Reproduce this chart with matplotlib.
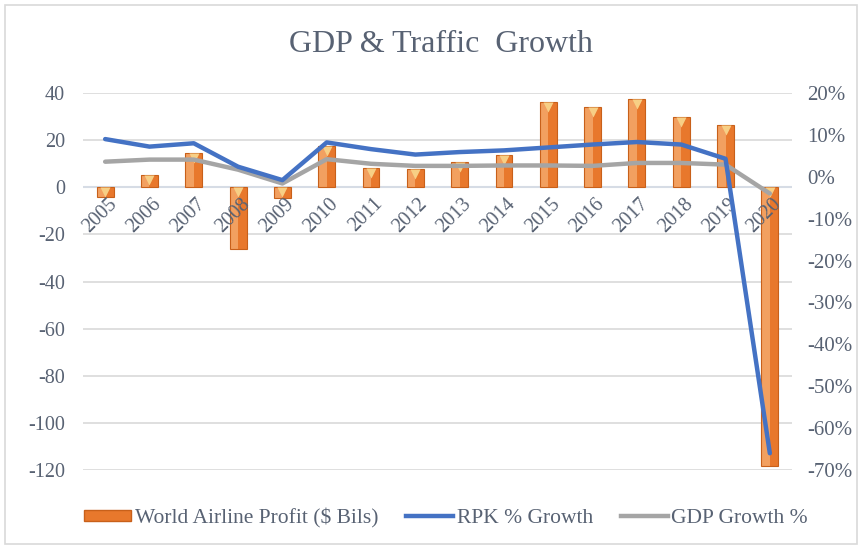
import matplotlib
matplotlib.use("Agg")
import matplotlib.pyplot as plt
import matplotlib.transforms as mtransforms
from matplotlib.patches import Rectangle, Patch
from matplotlib.lines import Line2D
from matplotlib.ticker import FuncFormatter, MultipleLocator

years = ["2005", "2006", "2007", "2008", "2009", "2010", "2011", "2012",
         "2013", "2014", "2015", "2016", "2017", "2018", "2019", "2020"]
profit = [-4.1, 5.0, 14.7, -26.0, -4.6, 17.3, 8.3, 7.6,
          10.6, 13.7, 36.0, 34.2, 37.6, 30.0, 26.4, -118.5]
rpk_growth = [9.0, 7.2, 8.0, 2.4, -0.8, 8.2, 6.6, 5.3,
              5.9, 6.3, 7.0, 7.7, 8.3, 7.7, 4.3, -66.0]
gdp_growth = [3.6, 4.1, 4.1, 1.7, -1.6, 4.2, 3.1, 2.6,
              2.6, 2.7, 2.7, 2.6, 3.3, 3.3, 2.9, -4.0]

txt = "#586273"
plt.rcParams["font.family"] = ["Liberation Serif", "DejaVu Serif"]
plt.rcParams["axes.unicode_minus"] = False

fig = plt.figure(figsize=(8.62, 5.49), dpi=100)
fig.patches.append(Rectangle((5 / 862, 5 / 549), 852 / 862, 539 / 549,
                             transform=fig.transFigure, fill=False,
                             edgecolor="#D9D9D9", lw=1.2))

ax = fig.add_axes([83 / 862, 1 - 470 / 549, (792 - 83) / 862, (470 - 93) / 549])
ax2 = ax.twinx()

x = list(range(len(years)))
w = 0.38
base = "#E8782C"
light = "#F2A060"
for xi, v in zip(x, profit):
    ax.bar(xi - w / 4, v, width=w / 2, color=light, edgecolor="none", zorder=2)
    ax.bar(xi + w / 4, v, width=w / 2, color=base, edgecolor="none", zorder=2)
    ax.bar(xi, v, width=w, color="none", edgecolor="#C8601A", lw=0.8, zorder=3)
    top = max(v, 0)
    tr = mtransforms.offset_copy(ax.transData, fig=fig, y=-5, units="dots")
    ax.plot([xi], [top], marker="v", markersize=7, color="#F7CF85",
            markeredgecolor="none", transform=tr, zorder=4)

ax.set_xlim(-0.5, len(years) - 0.5)
ax.set_ylim(-120, 40)
ax.yaxis.set_major_locator(MultipleLocator(20))
ax.grid(axis="y", color="#D9D9D9", lw=1.2, zorder=0)
ax.set_axisbelow(True)
ax.axhline(0, color="#D6DCE5", lw=1.5, zorder=1)
ax.set_xticks([])
for s in ax.spines.values():
    s.set_visible(False)
ax.tick_params(axis="y", length=0, pad=13, labelsize=14.5, labelcolor=txt)

for xi, lab in zip(x, years):
    tr = mtransforms.offset_copy(ax.transData, fig=fig, x=9, y=-14, units="dots")
    ax.text(xi, 0, lab, rotation=45, rotation_mode="anchor", ha="right",
            va="center", fontsize=14.5, color=txt, transform=tr, zorder=5)

ax2.plot(x, [v / 100 for v in rpk_growth], color="#4472C4", lw=3.2,
         solid_capstyle="round", zorder=5)
ax2.plot(x, [v / 100 for v in gdp_growth], color="#A5A5A5", lw=3.2,
         solid_capstyle="round", zorder=4)
ax2.set_ylim(-0.70, 0.20)
ax2.yaxis.set_major_locator(MultipleLocator(0.1))
ax2.yaxis.set_major_formatter(FuncFormatter(lambda v, p: f"{round(v * 100):d}%"))
ax2.tick_params(axis="y", length=0, pad=11, labelsize=15, labelcolor=txt)
for s in ax2.spines.values():
    s.set_visible(False)

fig.text(441 / 862, 1 - 45 / 549, "GDP & Traffic  Growth", ha="center",
         va="center", fontsize=23, color=txt)

handles = [Patch(facecolor=base, edgecolor="#C8601A"),
           Line2D([], [], color="#4472C4", lw=3.2),
           Line2D([], [], color="#A5A5A5", lw=3.2)]
labels = ["World Airline Profit ($ Bils)", "RPK % Growth", "GDP Growth %"]
leg = fig.legend(handles, labels, loc="center", bbox_to_anchor=(446 / 862, 1 - 518 / 549),
                 ncol=3, frameon=False, fontsize=15.5, handlelength=2.2,
                 handleheight=0.4, handletextpad=0.15, columnspacing=1.3)
for t in leg.get_texts():
    t.set_color(txt)

fig.savefig("out.png", dpi=100, facecolor="white")
